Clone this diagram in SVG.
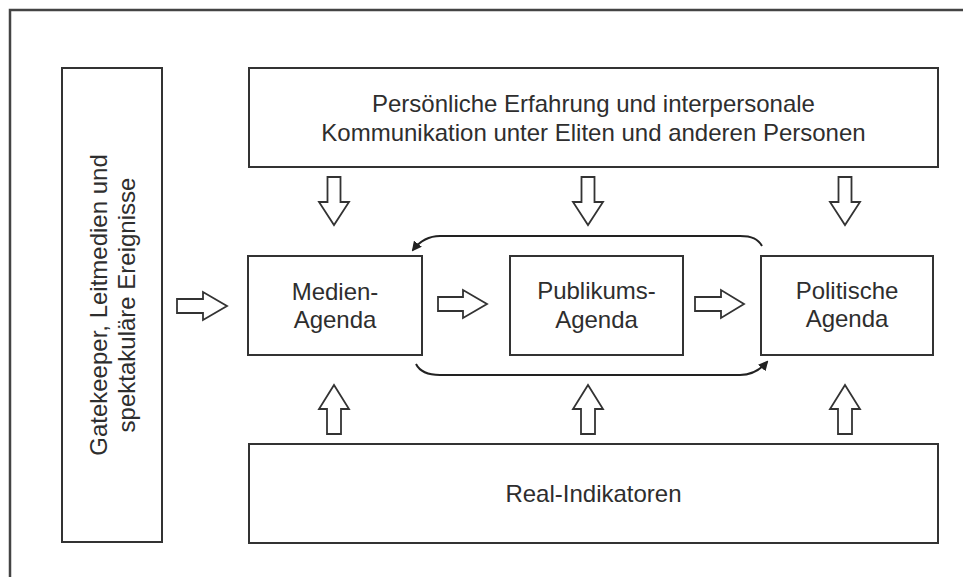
<svg xmlns="http://www.w3.org/2000/svg" width="963" height="577" viewBox="0 0 963 577">
<style>
.box{fill:#fff;stroke:#333;stroke-width:2}
.arr{fill:#fff;stroke:#333;stroke-width:1.8;stroke-linejoin:miter}
.t{font-family:"Liberation Sans",Arial,sans-serif;font-size:24px;fill:#2e2e2e;text-anchor:middle}
.con{fill:none;stroke:#222;stroke-width:2}
</style>
<defs>
<marker id="ah" markerWidth="10" markerHeight="10" refX="8" refY="5" orient="auto" markerUnits="userSpaceOnUse">
<path d="M0,0 L10,5 L0,10 Z" fill="#222"/>
</marker>
</defs>
<rect width="963" height="577" fill="#fff"/>
<path d="M10,577 L10,10 L963,10" fill="none" stroke="#444" stroke-width="2.5"/>

<g id="gatekeeper">
<rect class="box" x="62" y="68" width="100" height="474"/>
<text class="t" transform="translate(112,305) rotate(-90)"><tspan x="0" y="-5.5">Gatekeeper, Leitmedien und</tspan><tspan x="0" y="22.5">spektakuläre Ereignisse</tspan></text>
</g>

<g id="erfahrung">
<rect class="box" x="249" y="68" width="689" height="99"/>
<text class="t"><tspan x="593.5" y="112">Persönliche Erfahrung und interpersonale</tspan><tspan x="593.5" y="141">Kommunikation unter Eliten und anderen Personen</tspan></text>
</g>

<g id="medien">
<rect class="box" x="248" y="256" width="174" height="99"/>
<text class="t"><tspan x="335" y="300">Medien-</tspan><tspan x="335" y="328">Agenda</tspan></text>
</g>

<g id="publikum">
<rect class="box" x="510" y="256" width="173" height="99"/>
<text class="t"><tspan x="596.5" y="299">Publikums-</tspan><tspan x="596.5" y="328">Agenda</tspan></text>
</g>

<g id="politik">
<rect class="box" x="761" y="256" width="172" height="99"/>
<text class="t"><tspan x="847" y="299">Politische</tspan><tspan x="847" y="327">Agenda</tspan></text>
</g>

<g id="real">
<rect class="box" x="249" y="444" width="689" height="99"/>
<text class="t" x="593.5" y="502">Real-Indikatoren</text>
</g>

<g id="connectors">
<polygon class="arr" points="327.5,177 340.5,177 340.5,202 349,202 334,225 319,202 327.5,202"/>
<polygon class="arr" points="581.5,177 594.5,177 594.5,202 603,202 588,225 573,202 581.5,202"/>
<polygon class="arr" points="838.5,177 851.5,177 851.5,202 860,202 845,225 830,202 838.5,202"/>

<polygon class="arr" points="327,434 341,434 341,409 349,409 334,385 319,409 327,409"/>
<polygon class="arr" points="581,434 595,434 595,409 603,409 588,385 573,409 581,409"/>
<polygon class="arr" points="838,434 852,434 852,409 860,409 845,385 830,409 838,409"/>

<polygon class="arr" points="177,299 203,299 203,292 227,306 203,320 203,313 177,313"/>
<polygon class="arr" points="438,297 463,297 463,290 487,304 463,318 463,311 438,311"/>
<polygon class="arr" points="695,297 721,297 721,290 744,304 721,318 721,311 695,311"/>

<path class="con" d="M762,246 C758,239 752,236 740,236 L440,236 C428,236 420,241 413,250" marker-end="url(#ah)"/>
<path class="con" d="M416,364 C420,372 428,375 440,375 L740,375 C752,375 760,370 767,362" marker-end="url(#ah)"/>
</g>
</svg>
